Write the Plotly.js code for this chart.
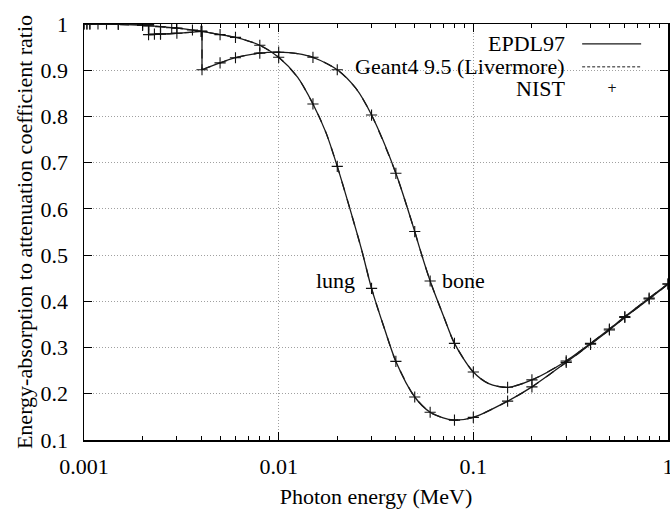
<!DOCTYPE html>
<html>
<head>
<meta charset="utf-8">
<script src="https://cdn.plot.ly/plotly-3.0.1.min.js"></script>
<style>html,body{margin:0;padding:0;background:#fff;}#chart{width:670px;height:509px;}</style>
</head>
<body>
<div id="chart"></div>
<script>
// ---- data ----
const lungE = [0.001, 0.0015, 0.002, 0.003, 0.004, 0.005, 0.006, 0.008, 0.01, 0.0125, 0.015, 0.0175, 0.02, 0.0232, 0.0267, 0.03, 0.035, 0.04, 0.05, 0.06, 0.07, 0.08, 0.1, 0.15, 0.2, 0.3, 0.4, 0.5, 0.6, 0.8, 1.0];
const lungR = [1.0, 0.999, 0.997, 0.991, 0.984, 0.977, 0.971, 0.954, 0.928, 0.885, 0.827, 0.765, 0.692, 0.601, 0.511, 0.428, 0.34, 0.27, 0.193, 0.160, 0.148, 0.143, 0.149, 0.184, 0.215, 0.268, 0.307, 0.338, 0.365, 0.405, 0.437];

const boneE = [0.001, 0.0015, 0.002, 0.002146, 0.002146, 0.0025, 0.003, 0.0035, 0.004038, 0.004038, 0.005, 0.006, 0.008, 0.01, 0.0125, 0.015, 0.02, 0.025, 0.03, 0.04, 0.05, 0.053, 0.06, 0.07, 0.08, 0.1, 0.12, 0.15, 0.2, 0.3, 0.4, 0.5, 0.6, 0.8, 1.0];
const boneR = [1.0, 1.0, 0.999, 0.999, 0.977, 0.978, 0.980, 0.982, 0.984, 0.901, 0.916, 0.927, 0.937, 0.939, 0.936, 0.928, 0.901, 0.86, 0.803, 0.677, 0.551, 0.515, 0.444, 0.37, 0.309, 0.247, 0.222, 0.214, 0.230, 0.271, 0.309, 0.340, 0.367, 0.407, 0.438];

const nistLungE = [0.001, 0.001035, 0.001072, 0.0015, 0.002, 0.002146, 0.002472, 0.002822, 0.003, 0.003607, 0.004, 0.005, 0.006, 0.008, 0.01, 0.015, 0.02, 0.03, 0.04, 0.05, 0.06, 0.08, 0.1, 0.15, 0.2, 0.3, 0.4, 0.5, 0.6, 0.8, 1.0];
const nistLungR = [1.0, 1.0, 1.0, 0.999, 0.997, 0.996, 0.994, 0.992, 0.991, 0.987, 0.984, 0.977, 0.971, 0.954, 0.928, 0.827, 0.692, 0.428, 0.27, 0.193, 0.160, 0.143, 0.149, 0.184, 0.215, 0.268, 0.307, 0.338, 0.365, 0.405, 0.437];

const nistBoneE = [0.001, 0.001035, 0.001072, 0.00118, 0.001305, 0.0015, 0.002, 0.002146, 0.002146, 0.0023, 0.002472, 0.002472, 0.003, 0.004, 0.004038, 0.004038, 0.005, 0.006, 0.008, 0.01, 0.015, 0.02, 0.03, 0.04, 0.05, 0.06, 0.08, 0.1, 0.15, 0.2, 0.3, 0.4, 0.5, 0.6, 0.8, 1.0];
const nistBoneR = [1.0, 1.0, 1.0, 1.0, 1.0, 1.0, 0.999, 0.999, 0.977, 0.978, 0.979, 0.978, 0.980, 0.984, 0.984, 0.901, 0.916, 0.927, 0.937, 0.939, 0.928, 0.901, 0.803, 0.677, 0.551, 0.444, 0.309, 0.247, 0.214, 0.230, 0.271, 0.309, 0.340, 0.367, 0.407, 0.438];

const xTickVals = [0.001, 0.01, 0.1, 1];
const xTickText = ['0.001', '0.01', '0.1', '1'];
const xMinorVals = [0.002,0.003,0.004,0.005,0.006,0.007,0.008,0.009,0.02,0.03,0.04,0.05,0.06,0.07,0.08,0.09,0.2,0.3,0.4,0.5,0.6,0.7,0.8,0.9];
const yTickVals = [0.1,0.2,0.3,0.4,0.5,0.6,0.7,0.8,0.9,1.0];
const yTickText = ['0.1','0.2','0.3','0.4','0.5','0.6','0.7','0.8','0.9','1'];

const legendLabels = ['EPDL97', 'Geant4 9.5 (Livermore)', 'NIST'];
const curveLabels = ['lung', 'bone'];

// split a curve at absorption edges (repeated energies) into smooth pieces + vertical jumps
function segmented(E, R) {
  const xs = [], ys = [];
  for (let i = 0; i < E.length; i++) {
    if (i > 0 && E[i] === E[i-1]) {
      xs.push(null, E[i-1], E[i], null, E[i]);
      ys.push(null, R[i-1], R[i], null, R[i]);
    } else {
      xs.push(E[i]); ys.push(R[i]);
    }
  }
  return {x: xs, y: ys};
}

const FONT = 'Liberation Serif';
const lungSeg = segmented(lungE, lungR);
const boneSeg = segmented(boneE, boneR);

function lineTrace(seg, name, dash) {
  return {x: seg.x, y: seg.y, type: 'scatter', mode: 'lines', name: name,
    line: {color: '#1a1a1a', width: 1.3, dash: dash, shape: 'spline', smoothing: 0.8},
    connectgaps: false, showlegend: false, hoverinfo: 'skip'};
}
function markTrace(E, R, name) {
  return {x: E, y: R, type: 'scatter', mode: 'markers', name: name, showlegend: false,
    marker: {symbol: 'cross-thin-open', size: 8, color: '#111', line: {width: 1.1, color: '#111'}}};
}

const traces = [
  lineTrace(lungSeg, legendLabels[0], 'solid'),
  lineTrace(boneSeg, legendLabels[0], 'solid'),
  lineTrace(lungSeg, legendLabels[1], 'dash'),
  lineTrace(boneSeg, legendLabels[1], 'dash'),
  markTrace(nistLungE, nistLungR, legendLabels[2]),
  markTrace(nistBoneE, nistBoneR, legendLabels[2])
];

const axisCommon = {
  showline: true, linecolor: '#000', linewidth: 1.5, mirror: 'ticks',
  ticks: 'inside', ticklen: 8, tickwidth: 1.2, tickcolor: '#000',
  showgrid: true, gridcolor: '#a0a0a0', griddash: '1px,2px', gridwidth: 1,
  zeroline: false, tickfont: {family: FONT, size: 22, color: '#000'},
  ticklabeloverflow: 'allow'
};

// legend placement (paper coords)
const legTextX = 0.827, legSampleX0 = 0.853, legSampleX1 = 0.954;
const legRowsY = [0.952, 0.897, 0.845];

const layout = {
  width: 670, height: 509,
  margin: {l: 84, r: 2, t: 24, b: 69},
  paper_bgcolor: '#fff', plot_bgcolor: '#fff',
  font: {family: FONT},
  showlegend: false,
  xaxis: Object.assign({}, axisCommon, {
    type: 'log', range: [-3, 0], tickmode: 'array', tickvals: xTickVals, ticktext: xTickText,
    ticklabelstandoff: 6,
    minor: {tickmode: 'array', tickvals: xMinorVals, ticks: 'inside', ticklen: 4, tickwidth: 1, tickcolor: '#000', showgrid: false},
    title: {text: 'Photon energy (MeV)', font: {family: FONT, size: 22, color: '#000'}, standoff: 12}
  }),
  yaxis: Object.assign({}, axisCommon, {
    range: [0.1, 1], tickmode: 'array', tickvals: yTickVals, ticktext: yTickText,
    ticklabelstandoff: 10,
    title: {text: 'Energy-absorption to attenuation coefficient ratio', font: {family: FONT, size: 22, color: '#000'}, standoff: 2}
  }),
  shapes: [
    {type: 'rect', xref: 'paper', yref: 'paper', x0: 0.322, x1: 0.973, y0: 0.823, y1: 0.997,
     fillcolor: '#fff', line: {width: 0}, layer: 'between'},
    {type: 'line', xref: 'paper', yref: 'paper', x0: legSampleX0, x1: legSampleX1, y0: legRowsY[0], y1: legRowsY[0],
     line: {color: '#1a1a1a', width: 1.3}},
    {type: 'line', xref: 'paper', yref: 'paper', x0: legSampleX0, x1: legSampleX1, y0: legRowsY[1], y1: legRowsY[1],
     line: {color: '#1a1a1a', width: 1, dash: '3px,2px'}}
  ],
  annotations: [
    {xref: 'paper', yref: 'paper', x: legTextX, y: legRowsY[0], xanchor: 'right', yanchor: 'middle', showarrow: false,
     text: legendLabels[0], font: {family: FONT, size: 22, color: '#000'}},
    {xref: 'paper', yref: 'paper', x: legTextX, y: legRowsY[1], xanchor: 'right', yanchor: 'middle', showarrow: false,
     text: legendLabels[1], font: {family: FONT, size: 22, color: '#000'}},
    {xref: 'paper', yref: 'paper', x: legTextX, y: legRowsY[2], xanchor: 'right', yanchor: 'middle', showarrow: false,
     text: legendLabels[2], font: {family: FONT, size: 22, color: '#000'}},
    {xref: 'paper', yref: 'paper', x: (legSampleX0 + legSampleX1) / 2, y: legRowsY[2], xanchor: 'center', yanchor: 'middle', showarrow: false,
     text: '+', font: {family: 'DejaVu Sans', size: 12, color: '#111'}},
    {xref: 'x', yref: 'y', x: Math.log10(0.0252), y: 0.446, xanchor: 'right', yanchor: 'middle', showarrow: false,
     text: curveLabels[0], font: {family: FONT, size: 22, color: '#000'}},
    {xref: 'x', yref: 'y', x: Math.log10(0.0673), y: 0.446, xanchor: 'left', yanchor: 'middle', showarrow: false,
     text: curveLabels[1], font: {family: FONT, size: 22, color: '#000'}}
  ]
};

Plotly.newPlot('chart', traces, layout, {displayModeBar: false, staticPlot: true});
</script>
</body>
</html>
